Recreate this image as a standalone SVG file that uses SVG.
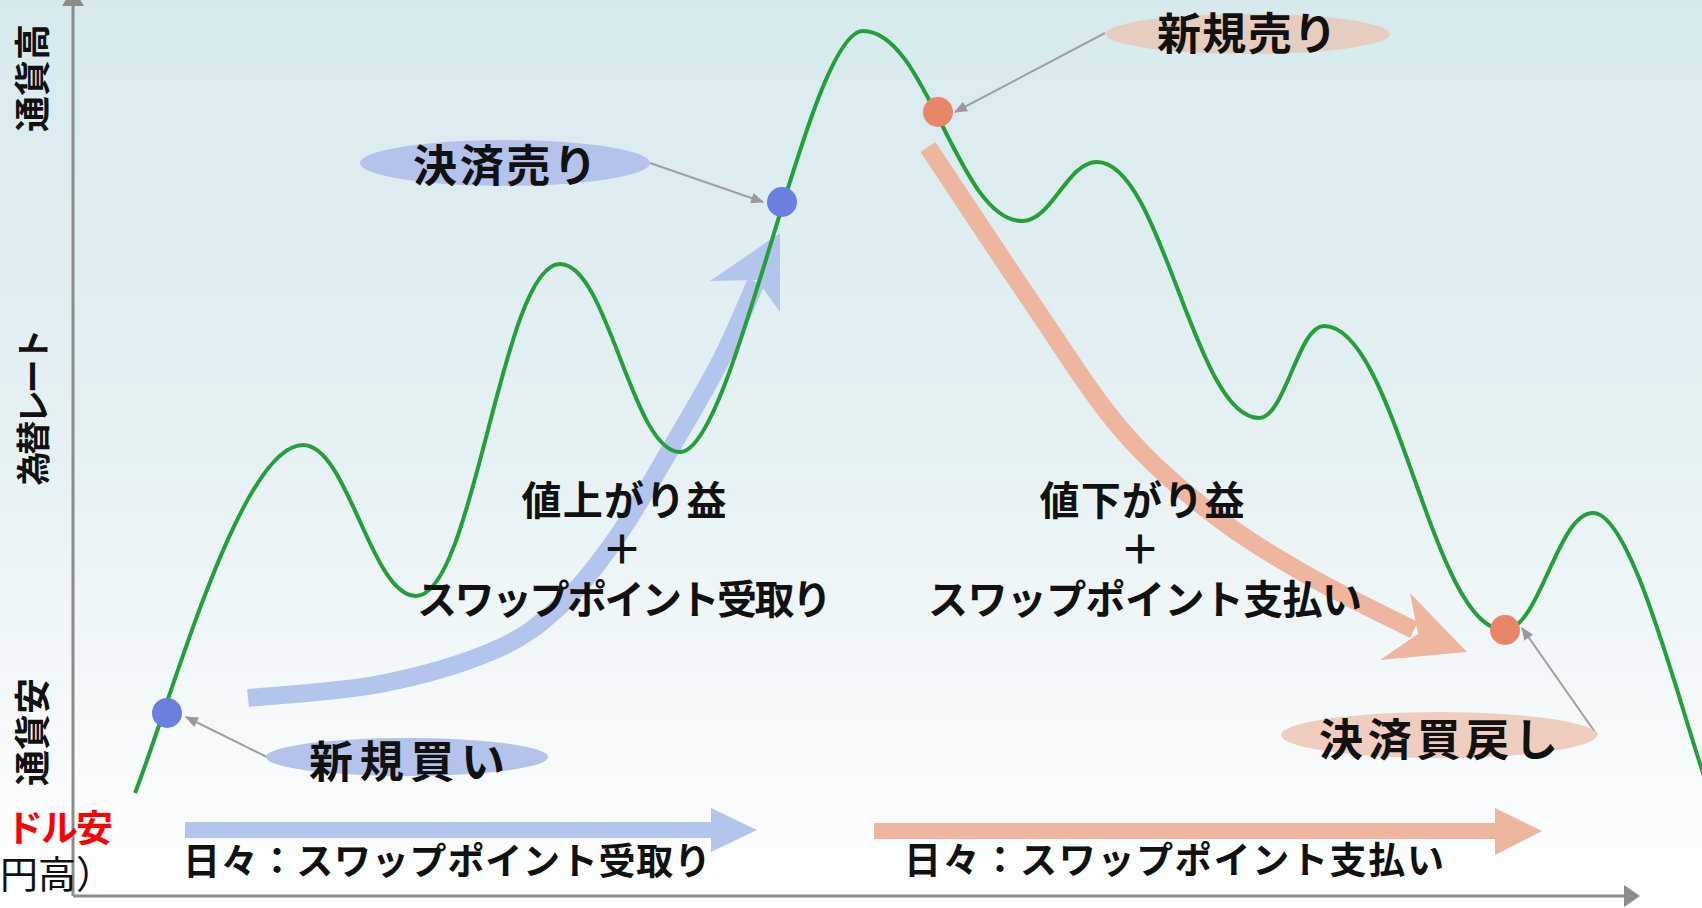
<svg xmlns="http://www.w3.org/2000/svg" width="1702" height="908" viewBox="0 0 1702 908">
<defs>
<linearGradient id="bg" x1="0" y1="0" x2="0" y2="1">
<stop offset="0" stop-color="#d6eaee"/>
<stop offset="0.5" stop-color="#e6f1f3"/>
<stop offset="0.85" stop-color="#f8fbfc"/>
<stop offset="1" stop-color="#ffffff"/>
</linearGradient>
<marker id="ga" viewBox="0 0 12 10" refX="11" refY="5" markerWidth="13" markerHeight="11" markerUnits="userSpaceOnUse" orient="auto">
<path d="M0,0 L12,5 L0,10 Z" fill="#9a9a9a"/>
</marker>
</defs>
<style>
.t{font-family:"Noto Sans CJK JP","Noto Sans CJK SC",sans-serif;font-weight:700;fill:#111}
.ax{stroke:#8c8c8c;stroke-width:3;fill:none}
.co{stroke:#a0a0a0;stroke-width:2;fill:none;marker-end:url(#ga)}
.blue{fill:#b3c5ec}
.sal{fill:#eeb59f}
</style>
<rect width="1702" height="908" fill="url(#bg)"/>

<g id="axes">
<line class="ax" x1="73" y1="896" x2="73" y2="4"/>
<polygon points="62,6 84,6 73,-12" fill="#8c8c8c"/>
<line class="ax" x1="73" y1="896" x2="1626" y2="896"/>
<polygon points="1624,885 1624,907 1640,896" fill="#8c8c8c"/>
</g>

<g id="axis-labels">
<text class="t" font-size="36" text-anchor="middle" transform="rotate(-90 46 78)" x="46" y="78">通貨高</text>
<text class="t" font-size="34" text-anchor="middle" textLength="157" transform="rotate(-90 46 407)" x="46" y="407">為替レート</text>
<text class="t" font-size="36" text-anchor="middle" transform="rotate(-90 46 732)" x="46" y="732">通貨安</text>
<text class="t" font-size="37" x="6" y="842" textLength="107" style="fill:#ff0000">ドル安</text>
<text class="t" font-size="38" x="0" y="888" style="font-weight:400">円高）</text>
</g>

<g id="swap-arrows">
<rect class="blue" x="185" y="822" width="528" height="16"/>
<polygon class="blue" points="711,808 757,830 711,852"/>
<rect class="sal" x="874" y="823" width="623" height="16"/>
<polygon class="sal" points="1495,808 1542,831 1495,855"/>
</g>

<g id="profit-arrows">
<path d="M248,698 C270,695.7 338.8,692 380,684 C421.2,676 465,663 495,650 C525,637 540,624.3 560,606 C580,587.7 597.2,565.2 615,540 C632.8,514.8 649.3,485 667,455 C684.7,425 706.2,388.8 721,360 C735.8,331.2 750.2,295 756,282" fill="none" stroke="#b3c5ec" stroke-width="18"/>
<polygon class="blue" points="780,233 780,312 757,280 710,281"/>
<path d="M928,147 C945,172.5 998,253.2 1030,300 C1062,346.8 1090,392.7 1120,428 C1150,463.3 1179.2,487.7 1210,512 C1240.8,536.3 1271,554.3 1305,574 C1339,593.7 1395.8,620.7 1414,630" fill="none" stroke="#eeb59f" stroke-width="18"/>
<polygon class="sal" points="1467,652 1380,660 1418,634 1410,593"/>
</g>

<g id="price-line">
<path d="M135,793 C170,705 240,445 303,445 C348,445 371,596 416,596 C474,596 502,264 560,264 C608,264 632,452 680,452 C735,452 808,31 863,31 C927,31 958,221 1022,221 C1052,221 1067,162 1097,162 C1162,162 1194,418 1259,418 C1285,418 1298,326 1324,326 C1396,326 1432,630 1504,630 C1540,630 1557,513 1593,513 C1633,513 1680,710 1712,800" fill="none" stroke="#23a03a" stroke-width="4"/>
</g>

<g id="connectors">
<line class="co" x1="650" y1="163" x2="763" y2="202"/>
<line class="co" x1="1105" y1="33" x2="955" y2="112"/>
<line class="co" x1="267" y1="757" x2="186" y2="717"/>
<line class="co" x1="1597" y1="735" x2="1522" y2="628"/>
</g>

<g id="dot-open-buy"><circle cx="167" cy="713" r="15" fill="#6a7fe0"/></g>
<g id="dot-close-sell"><circle cx="782" cy="202" r="15" fill="#6a7fe0"/></g>
<g id="dot-open-sell"><circle cx="938" cy="112" r="15" fill="#e8866a"/></g>
<g id="dot-close-buy"><circle cx="1505" cy="630" r="15" fill="#e8866a"/></g>

<g id="label-close-sell">
<ellipse cx="505" cy="163" rx="145" ry="23" fill="#b3c3ec"/>
<text class="t" font-size="44" x="413" y="182" textLength="184">決済売り</text>
</g>
<g id="label-open-sell">
<ellipse cx="1248" cy="34" rx="142" ry="20" fill="#e5cdbf"/>
<text class="t" font-size="44" x="1157" y="50" textLength="180">新規売り</text>
</g>
<g id="label-open-buy">
<ellipse cx="407" cy="757" rx="141" ry="19" fill="#b3c3ec"/>
<text class="t" font-size="44" x="309" y="778" textLength="196">新規買い</text>
</g>
<g id="label-close-buy">
<ellipse cx="1439" cy="735" rx="158" ry="23" fill="#efcdbf"/>
<text class="t" font-size="44" x="1319" y="756" textLength="239">決済買戻し</text>
</g>

<g id="label-up-profit">
<text class="t" font-size="40" x="624" y="515" text-anchor="middle" textLength="205">値上がり益</text>
<text class="t" font-size="40" x="622" y="564" text-anchor="middle">＋</text>
<text class="t" font-size="40" x="417" y="614" textLength="415">スワップポイント受取り</text>
</g>
<g id="label-down-profit">
<text class="t" font-size="40" x="1142" y="515" text-anchor="middle" textLength="205">値下がり益</text>
<text class="t" font-size="40" x="1140" y="564" text-anchor="middle">＋</text>
<text class="t" font-size="40" x="928" y="614" textLength="434">スワップポイント支払い</text>
</g>

<g id="label-swap-receive">
<text class="t" font-size="37" x="183" y="875" textLength="528">日々：スワップポイント受取り</text>
</g>
<g id="label-swap-pay">
<text class="t" font-size="37" x="904" y="874" textLength="540">日々：スワップポイント支払い</text>
</g>
</svg>
